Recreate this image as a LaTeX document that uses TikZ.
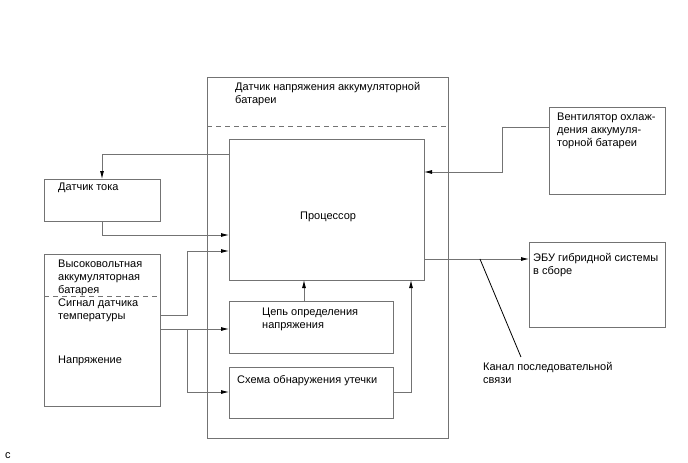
\documentclass[tikz,border=0pt]{standalone}
\usepackage{fontspec}
\setmainfont{Liberation Sans}
\usetikzlibrary{arrows.meta}
\definecolor{linegray}{gray}{0.45}
\tikzset{
    box/.style={draw=linegray, line width=0.8pt, inner sep=0pt, outer sep=0pt, anchor=north west},
    txt/.style={font=\fontsize{11}{13}\selectfont, inner sep=0pt, anchor=north west, align=left},
    wire/.style={draw=linegray, line width=0.8pt},
    arr/.style={wire, -{Latex[length=8pt,width=4pt,color=black]}},
    sep/.style={draw=linegray, line width=0.8pt, dash pattern=on 5pt off 4pt},
}
\begin{document}
\begin{tikzpicture}[x=1pt,y=-1pt]
    \useasboundingbox (0,0) rectangle (688,463);

    % boxes
    \node [box, minimum width=241pt, minimum height=361pt] (sensor) at (207,77) {};
    \node [box, minimum width=195pt, minimum height=141pt] (proc) at (229,139) {};
    \node [box, minimum width=164pt, minimum height=52pt] (volt) at (229,301) {};
    \node [box, minimum width=164pt, minimum height=51pt] (leak) at (229,367) {};
    \node [box, minimum width=116pt, minimum height=42pt] (cur) at (44,179) {};
    \node [box, minimum width=116pt, minimum height=152pt] (hv) at (44,254) {};
    \node [box, minimum width=116pt, minimum height=87pt] (fan) at (549,107) {};
    \node [box, minimum width=136pt, minimum height=85pt] (ecu) at (529,242) {};

    % texts
    \node [txt] (sensortxt) at ([shift={(28pt,-5pt)}]sensor.north west)
        {Датчик напряжения аккумуляторной\\батареи};
    \node [txt] (proctxt) at ([shift={(71pt,-73pt)}]proc.north west) {Процессор};
    \node [txt] (volttxt) at ([shift={(33pt,-7pt)}]volt.north west)
        {Цепь определения\\напряжения};
    \node [txt] (leaktxt) at ([shift={(8pt,-8pt)}]leak.north west)
        {Схема обнаружения утечки};
    \node [txt] (curtxt) at ([shift={(14pt,-4pt)}]cur.north west) {Датчик тока};
    \node [txt] (hvtxt) at ([shift={(14pt,-6pt)}]hv.north west)
        {Высоковольтная\\аккумуляторная\\батарея};
    \node [txt] (temptxt) at ([shift={(14pt,-45pt)}]hv.north west)
        {Сигнал датчика\\температуры};
    \node [txt] (utxt) at ([shift={(14pt,-102pt)}]hv.north west) {Напряжение};
    \node [txt] (fantxt) at ([shift={(8pt,-6pt)}]fan.north west)
        {Вентилятор охлаж-\\дения аккумуля-\\торной батареи};
    \node [txt] (ecutxt) at ([shift={(4pt,-11pt)}]ecu.north west)
        {ЭБУ гибридной системы\\в сборе};
    \node [txt] (mark) at (5,452) {c};

    % dashed separators
    \draw [sep]
        ([yshift=-49pt]sensor.north west)
        -- ([yshift=-49pt]sensor.north east)
        ;
    \draw [sep]
        ([yshift=-42pt]hv.north west)
        -- ([yshift=-42pt]hv.north east)
        ;

    % connectors
    \draw [arr]
        ([yshift=-15pt]proc.north west)
        -| (cur.north)
        ;
    \draw [arr]
        (cur.south)
        |- ([yshift=-96pt]proc.north west)
        ;
    \draw [arr]
        ([yshift=-61pt]hv.north east)
        -- ++(27,0)
        |- ([yshift=-112pt]proc.north west)
        ;
    \draw [arr]
        ([yshift=-75pt]hv.north east)
        -- ([yshift=-28pt]volt.north west)
        ;
    \draw [arr]
        ([yshift=-75pt]hv.north east)
        ++(27,0)
        |- ([yshift=-25pt]leak.north west)
        ;
    \draw [arr]
        ([xshift=75pt]volt.north west)
        -- ([xshift=75pt]proc.south west)
        ;
    \draw [arr]
        ([yshift=-25pt]leak.north east)
        -| ([xshift=-13pt]proc.south east)
        ;
    \draw [arr]
        ([yshift=-20pt]fan.north west)
        -- ++(-47,0)
        |- ([yshift=-33pt]proc.north east)
        ;
    \draw [arr]
        ([yshift=-120pt]proc.north east)
        -- coordinate [pos=0.533] (tap)
        ([yshift=-17pt]ecu.north west)
        ;

    \node [txt] (serial) at ([shift={(3pt,-103pt)}]tap)
        {Канал последовательной\\связи};
    \draw [line width=0.8pt]
        (tap)
        -- ([shift={(38pt,5pt)}]serial.north west)
        ;
\end{tikzpicture}
\end{document}
